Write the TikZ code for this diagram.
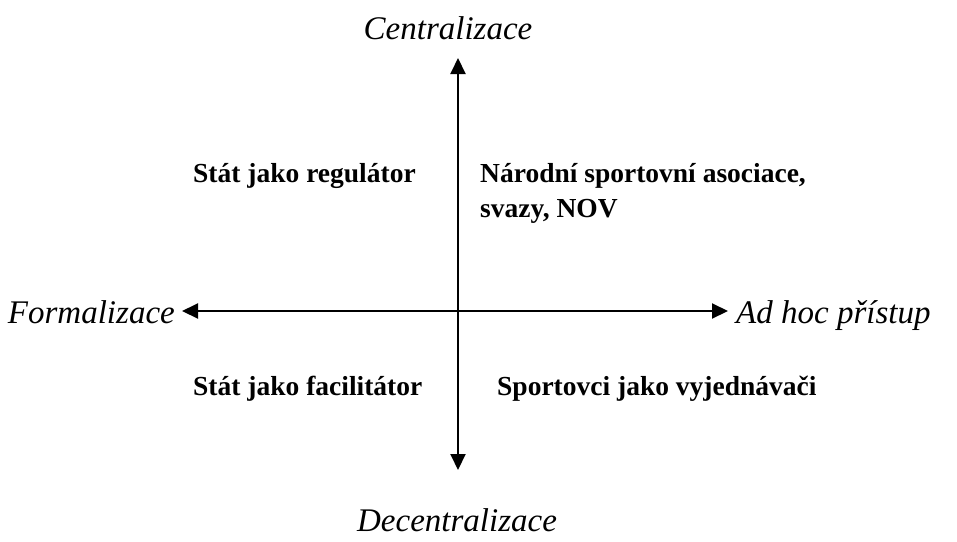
\documentclass[tikz,border=0pt]{standalone}
\usepackage{fontspec}
\setmainfont{Liberation Serif}
\usetikzlibrary{arrows.meta}

\tikzset{
  axis/.style={line width=2pt, {Triangle[width=15pt,length=16pt]}-{Triangle[width=15pt,length=16pt]}},
  pole/.style={font=\fontsize{33}{38}\selectfont\itshape, inner sep=0pt},
  quad/.style={font=\fontsize{27.5}{35}\selectfont\bfseries, inner sep=0pt, align=left}
}

\begin{document}
\begin{tikzpicture}[x=1pt, y=-1pt]
  \useasboundingbox (0,0) rectangle (957,541);

  % axis ends
  \coordinate (ctop) at (458,58);
  \coordinate (cbot) at (458,470);
  \coordinate (cleft) at (182,311);
  \coordinate (cright) at (728,311);

  \draw[axis] (cbot) -- (ctop);
  \draw[axis] (cleft) -- (cright);

  % poles
  \node[pole, anchor=base] (centr) at (448,39) {Centralizace};
  \node[pole, anchor=base] (decentr) at (457,531) {Decentralizace};
  \node[pole, anchor=base east] (formal) at (175,323) {Formalizace};
  \node[pole, anchor=base west] (adhoc) at (736,323) {Ad hoc přístup};

  % quadrants
  \node[quad, anchor=base west] (regul) at (193,182) {Stát jako regulátor};
  \node[quad, anchor=base west] (asoc) at (480,182) {Národní sportovní asociace,};
  \node[quad, anchor=base west] (svazy) at (480,217) {svazy, NOV};
  \node[quad, anchor=base west] (facil) at (193,395) {Stát jako facilitátor};
  \node[quad, anchor=base west] (vyjed) at (497,395) {Sportovci jako vyjednávači};
\end{tikzpicture}
\end{document}
